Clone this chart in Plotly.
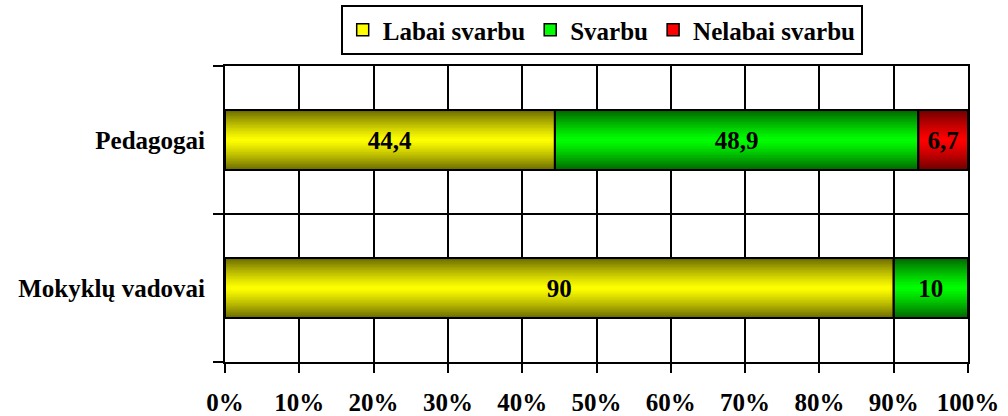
import plotly.graph_objects as go

categories = ["Mokyklų vadovai", "Pedagogai"]
series_names = ["Labai svarbu", "Svarbu", "Nelabai svarbu"]
labai_svarbu = [90, 44.4]
svarbu = [10, 48.9]
nelabai_svarbu = [0, 6.7]
x_tick_values = [0, 10, 20, 30, 40, 50, 60, 70, 80, 90, 100]
x_tick_labels = ["0%", "10%", "20%", "30%", "40%", "50%", "60%", "70%", "80%", "90%", "100%"]

series_values = [labai_svarbu, svarbu, nelabai_svarbu]
bright = [(255, 255, 0), (0, 255, 0), (255, 0, 0)]
dark = [(105, 105, 0), (0, 100, 0), (110, 0, 0)]

FONT = "Liberation Serif"
FS = 25
W = 0.405
K = 40

fig = go.Figure()

bases = [[0.0] * len(categories)]
for vals in series_values[:-1]:
    bases.append([b + v for b, v in zip(bases[-1], vals)])

step = W / K
for s, vals in enumerate(series_values):
    base = bases[s]
    for i in range(K):
        t = abs(2 * (i + 0.5) / K - 1)
        t = t ** 1.2
        c = tuple(int(round(bright[s][j] * (1 - t) + dark[s][j] * t)) for j in range(3))
        start = -W / 2 + i * step
        wid = min(step * 2.0, W / 2 - start)
        fig.add_trace(go.Bar(
            y=categories, x=vals, base=base, orientation="h",
            offset=start, width=wid,
            marker=dict(color="rgb(%d,%d,%d)" % c, line=dict(width=0)),
            showlegend=False, hoverinfo="skip",
        ))

for s, vals in enumerate(series_values):
    texts = [("%g" % v).replace(".", ",") if v > 0 else "" for v in vals]
    fig.add_trace(go.Bar(
        y=categories, x=vals, base=bases[s], orientation="h", width=W,
        marker=dict(color="rgba(0,0,0,0)", line=dict(color="black", width=2)),
        text=texts, textposition="inside", insidetextanchor="middle",
        textangle=0, constraintext="none",
        textfont=dict(family=FONT, size=FS, color="black", weight="bold"),
        showlegend=False, hoverinfo="skip",
    ))

for s, name in enumerate(series_names):
    fig.add_trace(go.Bar(
        y=[None], x=[None], orientation="h", name=name,
        marker=dict(color="rgb(%d,%d,%d)" % bright[s], line=dict(color="black", width=1.5)),
    ))

fig.update_layout(
    width=1008, height=416,
    margin=dict(l=225, r=40, t=66, b=54),
    barmode="overlay",
    paper_bgcolor="white", plot_bgcolor="white",
    font=dict(family=FONT, size=FS, color="black", weight="bold"),
    legend=dict(
        orientation="h", x=0.507, xanchor="center",
        yref="container", y=1 - 5 / 416, yanchor="top",
        bordercolor="black", borderwidth=2, bgcolor="white",
        font=dict(family=FONT, size=FS, color="black", weight="bold"),
        itemwidth=30, tracegroupgap=0,
    ),
    xaxis=dict(
        range=[0, 100], tickvals=x_tick_values, ticktext=x_tick_labels,
        showgrid=True, gridcolor="black", gridwidth=2,
        showline=True, linecolor="black", linewidth=2, mirror=True,
        ticks="outside", ticklen=9, tickwidth=2, tickcolor="black",
        ticklabelstandoff=8,
        zeroline=False, fixedrange=True, automargin=False,
    ),
    yaxis=dict(
        type="category", categoryorder="array", categoryarray=categories,
        range=[-0.5, 1.5], tickson="boundaries",
        showgrid=True, gridcolor="black", gridwidth=2,
        showline=True, linecolor="black", linewidth=2, mirror=True,
        ticks="outside", ticklen=10, tickwidth=2, tickcolor="black",
        ticklabelstandoff=13,
        fixedrange=True, automargin=False,
    ),
)

fig.write_html(
    "out.html",
    config={"displayModeBar": False},
    post_script="document.body.style.margin='0';document.body.style.overflow='hidden';",
)
